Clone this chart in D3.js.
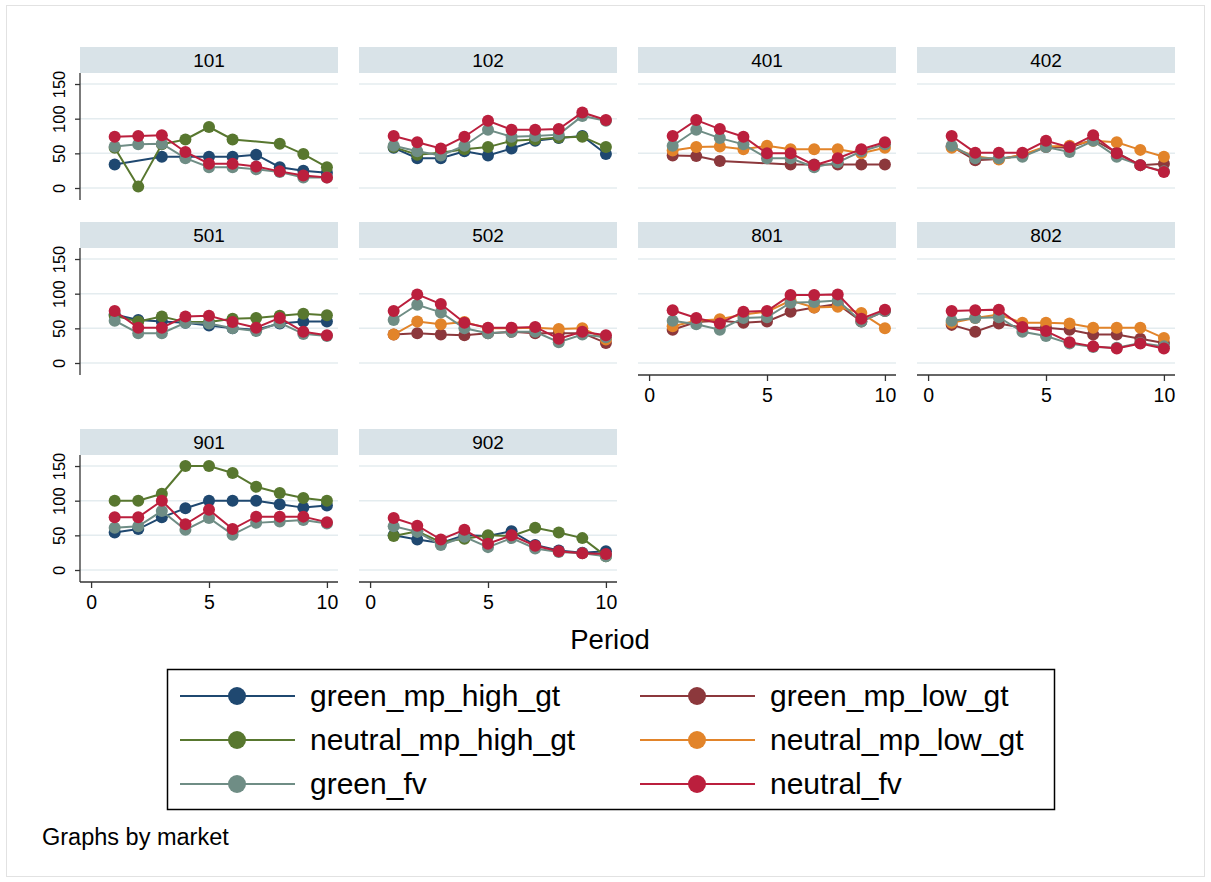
<!DOCTYPE html>
<html>
<head>
<meta charset="utf-8">
<script src="https://cdn.jsdelivr.net/npm/d3@7"></script>
<style>
  body { margin: 0; background: #fff; }
  svg { font-family: "Liberation Sans", Arial, Helvetica, sans-serif; }
</style>
</head>
<body>
<svg id="chart" width="1211" height="882"></svg>
<script>
// periods on the x axis
const periods = [1, 2, 3, 4, 5, 6, 7, 8, 9, 10];
const markets = ['101', '102', '401', '402', '501', '502', '801', '802', '901', '902'];
const xTicks = [0, 5, 10];
const yTicks = [0, 50, 100, 150];

// one row per market (same order as markets), null = series not in that market / missing period
const green_mp_high_gt = [
  [34, null, 45, 45, 45, 45, 48, 30, 25, 22],
  [58, 43, 43, 53, 47, 57, 68, 72, 75, 49],
  null, null,
  [70, 62, 60, 58, 54, 50, 48, 57, 60, 60],
  null, null, null,
  [54, 59, 76, 89, 100, 100, 100, 95, 90, 93],
  [50, 44, 39, 50, 49, 56, 36, 28, 25, 27]
];
const green_mp_low_gt = [
  null, null,
  [47, 46, 39, null, null, 34, 34, 34, 34, 34],
  [60, 40, 42, 47, 59, 58, 70, 51, 33, 35],
  null,
  [41, 43, 41, 40, 43, 45, 43, 43, 43, 29],
  [48, 59, 61, 58, 60, 74, 80, 85, 60, 75],
  [55, 45, 57, 51, 51, 48, 41, 41, 35, 29],
  null, null
];
const neutral_mp_high_gt = [
  [58, 2, 63, 70, 88, 70, null, 64, 49, 30],
  [59, 48, 51, 56, 59, 68, 70, 73, 74, 59],
  null, null,
  [68, 60, 67, 59, 59, 64, 65, 68, 71, 69],
  null, null, null,
  [100, 100, 110, 150, 150, 140, 120, 111, 104, 100],
  [49, 56, 40, 45, 50, 49, 61, 54, 46, 20]
];
const neutral_mp_low_gt = [
  null, null,
  [54, 59, 60, 56, 61, 56, 56, 56, 50, 58],
  [58, 46, 41, 48, 60, 61, 68, 66, 55, 45],
  null,
  [41, 60, 56, 59, 50, 50, 51, 49, 50, 34],
  [53, 61, 63, 70, 74, 90, 80, 81, 72, 50],
  [58, 65, 70, 58, 58, 57, 51, 51, 51, 36],
  null, null
];
const green_fv = [
  [60, 63, 64, 43, 30, 30, 27, 23, 15, 15],
  [61, 53, 47, 61, 84, 74, 75, 77, 104, 97],
  [61, 84, 72, 63, 43, 43, 30, 37, 53, 63],
  [61, 43, 43, 45, 59, 52, 68, 45, 33, 24],
  [61, 43, 43, 58, 57, 50, 46, 58, 42, 39],
  [62, 84, 73, 50, 43, 45, 45, 30, 41, 37],
  [61, 56, 48, 65, 66, 87, 88, 90, 60, 75],
  [61, 65, 66, 45, 39, 28, 23, 22, 29, 24],
  [61, 63, 85, 58, 75, 51, 68, 70, 72, 67],
  [63, 55, 36, 48, 33, 46, 31, 26, 24, 20]
];
const neutral_fv = [
  [74, 75, 76, 52, 35, 35, 31, 24, 18, 15],
  [75, 66, 57, 74, 97, 84, 84, 85, 109, 98],
  [75, 98, 85, 74, 50, 50, 33, 43, 56, 66],
  [75, 51, 51, 51, 68, 59, 76, 50, 33, 23],
  [75, 51, 51, 67, 68, 59, 51, 65, 45, 40],
  [75, 99, 85, 58, 51, 51, 52, 35, 45, 40],
  [76, 65, 57, 74, 75, 98, 98, 99, 64, 77],
  [75, 76, 77, 52, 46, 30, 24, 21, 28, 21],
  [76, 76, 100, 66, 87, 59, 77, 77, 77, 69],
  [75, 64, 44, 58, 38, 50, 35, 27, 24, 23]
];

const seriesNames = ['green_mp_high_gt', 'green_mp_low_gt', 'neutral_mp_high_gt', 'neutral_mp_low_gt', 'green_fv', 'neutral_fv'];
const seriesData = [green_mp_high_gt, green_mp_low_gt, neutral_mp_high_gt, neutral_mp_low_gt, green_fv, neutral_fv];
const seriesColors = ['#1f4870', '#8c383c', '#58772f', '#e2842a', '#6f8d85', '#bb1f3d'];

const svg = d3.select('#chart');

// light frame round the graph region
svg.append('rect')
  .attr('x', 6.5).attr('y', 5.5).attr('width', 1198).attr('height', 871)
  .attr('fill', 'none').attr('stroke', '#e2e2e2');

// panel layout
const panelW = 258, panelH = 127, stripH = 26;
const colX = [80, 359, 638, 917];
const rowY = [73, 248, 455];

const x = d3.scaleLinear().domain([-0.47, 10.47]).range([0, panelW]);
const y = d3.scaleLinear().domain([-17.3, 165.9]).range([panelH, 0]);

const line = d3.line()
  .x(d => x(d.p))
  .y(d => y(d.v));

markets.forEach((m, i) => {
  const col = i % 4, row = Math.floor(i / 4);
  const g = svg.append('g').attr('transform', `translate(${colX[col]},${rowY[row]})`);

  // strip title
  g.append('rect')
    .attr('x', 0).attr('y', -stripH).attr('width', panelW).attr('height', stripH)
    .attr('fill', '#d9e3e8');
  g.append('text')
    .attr('x', panelW / 2).attr('y', -6.5)
    .attr('text-anchor', 'middle')
    .style('font-size', '19px')
    .text(m);

  // gridlines
  g.selectAll('.grid').data(yTicks).enter().append('line')
    .attr('x1', 0).attr('x2', panelW)
    .attr('y1', d => y(d)).attr('y2', d => y(d))
    .attr('stroke', '#e4ecef').attr('stroke-width', 1.5);

  // y axis on the first column
  if (col === 0) {
    const ya = g.append('g').call(d3.axisLeft(y).tickValues(yTicks).tickSize(5).tickFormat(d3.format('d')));
    ya.select('.domain').attr('d', `M0,0V${panelH}`).attr('stroke', '#333').attr('stroke-width', 1.3);
    ya.selectAll('.tick line').attr('stroke', '#333').attr('stroke-width', 1.3);
    ya.selectAll('.tick text')
      .attr('transform', 'rotate(-90)')
      .attr('x', 0).attr('y', -15).attr('dy', 0)
      .attr('text-anchor', 'middle')
      .style('font-size', '16.5px')
      .style('font-family', '"Liberation Sans", Arial, sans-serif')
      .attr('fill', '#000');
  }

  // x axis on the last panel of each column
  if (i >= markets.length - 4) {
    const xa = g.append('g').attr('transform', `translate(0,${panelH})`)
      .call(d3.axisBottom(x).tickValues(xTicks).tickSize(6).tickFormat(d3.format('d')));
    xa.select('.domain').attr('d', `M0,0H${panelW}`).attr('stroke', '#333').attr('stroke-width', 1.3);
    xa.selectAll('.tick line').attr('stroke', '#333').attr('stroke-width', 1.3);
    xa.selectAll('.tick text')
      .attr('y', 13).attr('dy', '0.71em')
      .style('font-size', '19.5px')
      .style('font-family', '"Liberation Sans", Arial, sans-serif')
      .attr('fill', '#000');
  }

  // series
  seriesData.forEach((s, k) => {
    const vals = s[i];
    if (!vals) return;
    const pts = periods.map((p, j) => ({ p: p, v: vals[j] })).filter(d => d.v != null);
    g.append('path')
      .datum(pts)
      .attr('d', line)
      .attr('fill', 'none')
      .attr('stroke', seriesColors[k])
      .attr('stroke-width', 2);
    g.selectAll('.pt' + k).data(pts).enter().append('circle')
      .attr('cx', d => x(d.p)).attr('cy', d => y(d.v))
      .attr('r', 6)
      .attr('fill', seriesColors[k]);
  });
});

// x axis title
svg.append('text')
  .attr('x', 610).attr('y', 649)
  .attr('text-anchor', 'middle')
  .style('font-size', '27.5px')
  .text('Period');

// legend
const legend = svg.append('g');
legend.append('rect')
  .attr('x', 167.5).attr('y', 669.5).attr('width', 887).attr('height', 140)
  .attr('fill', 'none').attr('stroke', '#000').attr('stroke-width', 1.5);

const legX = [180, 640];
const legY = [696, 740, 784];
seriesNames.forEach((name, k) => {
  const lx = legX[k % 2], ly = legY[Math.floor(k / 2)];
  legend.append('line')
    .attr('x1', lx).attr('x2', lx + 115).attr('y1', ly).attr('y2', ly)
    .attr('stroke', seriesColors[k]).attr('stroke-width', 2.2);
  legend.append('circle')
    .attr('cx', lx + 57).attr('cy', ly).attr('r', 9)
    .attr('fill', seriesColors[k]);
  legend.append('text')
    .attr('x', lx + 130).attr('y', ly + 10)
    .style('font-size', '30px')
    .text(name);
});

// note
svg.append('text')
  .attr('x', 42).attr('y', 845)
  .style('font-size', '23.5px')
  .text('Graphs by market');
</script>
</body>
</html>
